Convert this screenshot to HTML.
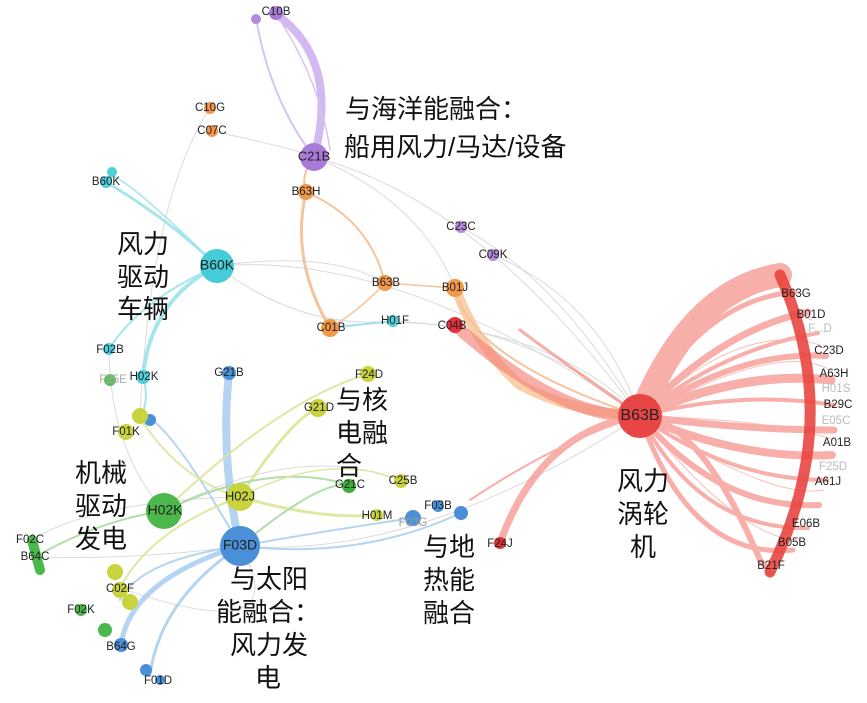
<!DOCTYPE html>
<html><head><meta charset="utf-8"><style>
html,body{margin:0;padding:0;background:#fff;width:867px;height:703px;overflow:hidden}
svg{display:block}
.l{font-family:"Liberation Sans",sans-serif;font-size:11.5px;fill:#222;text-anchor:middle;dominant-baseline:middle}
.cn{font-family:"Liberation Sans","Noto Sans CJK SC",sans-serif;font-size:26px;fill:#111}
</style></head><body>
<svg width="867" height="703" viewBox="0 0 867 703">
<g fill="none" stroke-linecap="round">
<g stroke="#ccc" stroke-width="1" opacity="0.7">
<path d="M314,157 Q420,200 455,288"/><path d="M314,157 Q480,200 640,416"/>
<path d="M217,266 Q330,250 385,283"/><path d="M217,266 Q300,330 393,321"/>
<path d="M217,266 Q400,250 640,416"/><path d="M330,328 Q500,300 640,416"/>
<path d="M212,131 Q300,150 314,157"/><path d="M210,108 Q150,200 140,418"/>
<path d="M493,255 Q600,300 640,416"/><path d="M461,227 Q560,280 640,416"/>
<path d="M240,546 Q420,560 640,416"/><path d="M164,511 Q300,440 401,481"/>
<path d="M120,588 Q300,650 240,546"/><path d="M30,540 Q100,500 240,497"/>
<path d="M35,557 Q140,560 240,546"/><path d="M109,349 Q110,450 164,511"/>
<path d="M393,321 Q560,330 640,416"/>
</g>
<g stroke="#8fdfe8" opacity="0.8">
<path d="M106,182 Q170,220 217,266" stroke-width="3"/>
<path d="M217,266 Q150,300 143,377" stroke-width="4"/>
<path d="M217,266 Q140,300 109,349" stroke-width="2"/>
<path d="M217,266 Q130,180 110,175" stroke-width="1.5"/>
<path d="M330,328 L393,321" stroke-width="2"/>
<path d="M143,377 Q150,400 140,418" stroke-width="2"/>
</g>
<path d="M276,14 Q340,60 314,157" stroke="#c8a8ec" stroke-width="8" opacity="0.8"/>
<path d="M256,18 Q270,100 314,157" stroke="#d7c3f0" stroke-width="2"/>
<path d="M276,14 Q320,80 330,150" stroke="#d7c3f0" stroke-width="1.5"/>
<g stroke="#f5b98a" opacity="0.85">
<path d="M306,192 Q290,260 330,328" stroke-width="3"/>
<path d="M306,192 Q370,220 385,283" stroke-width="2"/>
<path d="M314,157 Q300,175 306,192" stroke-width="2"/>
<path d="M385,283 L455,288" stroke-width="1.5"/>
<path d="M385,283 Q360,310 330,328" stroke-width="1.5"/>
<path d="M458,295 Q480,350 520,385 Q570,412 640,416" stroke="#f9c89a" stroke-width="10"/>
<path d="M455,288 Q470,360 640,416" stroke-width="2"/>
</g>
<g stroke="#f47e76" opacity="0.62">
<path d="M455,325 Q560,420 640,416" stroke-width="12"/>
<path d="M500,543 Q540,430 640,416" stroke-width="7"/>
<path d="M640,416 Q690,290 780,275" stroke-width="24"/>
<path d="M640,416 Q700,300 795,292" stroke-width="5"/>
<path d="M640,416 Q720,330 808,312" stroke-width="7"/>
<path d="M640,416 Q720,350 818,333" stroke-width="4"/>
<path d="M640,416 Q740,350 826,356" stroke-width="6"/>
<path d="M640,416 Q740,370 831,380" stroke-width="9"/>
<path d="M640,416 Q740,390 834,405" stroke-width="4"/>
<path d="M640,416 Q740,430 834,430" stroke-width="7"/>
<path d="M640,416 Q740,460 832,455" stroke-width="8"/>
<path d="M640,416 Q730,480 827,480" stroke-width="4"/>
<path d="M640,416 Q720,510 819,505" stroke-width="6"/>
<path d="M640,416 Q700,530 808,528" stroke-width="4"/>
<path d="M640,416 Q690,560 793,550" stroke-width="5"/>
<path d="M640,416 Q700,420 760,560 L770,572" stroke-width="6"/>
<path d="M640,416 Q560,360 520,330" stroke-width="3"/>
<path d="M640,416 Q560,440 470,500" stroke-width="2"/>
</g>
<g stroke="#f9b0aa" stroke-width="1" opacity="0.8">
<path d="M640,416 Q760,300 812,320"/><path d="M640,416 Q780,340 830,370"/>
<path d="M640,416 Q780,420 834,440"/><path d="M640,416 Q770,500 824,490"/>
<path d="M640,416 Q740,540 800,540"/><path d="M640,416 Q740,320 820,345"/>
</g>
<path d="M780,275 Q845,420 770,572" stroke="#e9453f" stroke-width="11" opacity="0.9"/>
<g stroke="#a9cdf0" opacity="0.85">
<path d="M229,373 Q220,460 240,546" stroke-width="8"/>
<path d="M240,546 Q130,580 121,645" stroke-width="5"/>
<path d="M240,546 Q160,600 150,675" stroke-width="3"/>
<path d="M240,546 Q140,560 120,600" stroke-width="2"/>
<path d="M240,546 Q330,530 413,518" stroke-width="2"/>
<path d="M240,546 Q360,560 461,513" stroke-width="2"/>
<path d="M240,546 Q180,440 150,418" stroke-width="2"/>
</g>
<g stroke="#dbe69a" opacity="0.9">
<path d="M240,497 Q290,420 318,408" stroke-width="3"/>
<path d="M240,497 Q320,520 377,515" stroke-width="3"/>
<path d="M240,497 Q180,480 140,418" stroke-width="2"/>
<path d="M240,497 Q150,530 120,588" stroke-width="2"/>
<path d="M164,511 Q280,400 368,374" stroke-width="2"/>
<path d="M164,511 Q270,460 349,485" stroke="#a8dba0" stroke-width="2"/>
<path d="M240,497 Q330,450 401,481" stroke-width="1.5"/>
<path d="M35,557 Q100,520 164,511" stroke="#a8dba0" stroke-width="2"/>
<path d="M240,546 Q320,480 349,485" stroke="#a8dba0" stroke-width="2"/>
</g>
</g>
<g>
<circle cx="256" cy="19" r="5" fill="#b48ae0"/><circle cx="276" cy="13" r="7" fill="#a97ad8"/>
<circle cx="314" cy="157" r="14" fill="#a97ad8"/>
<circle cx="210" cy="108" r="6" fill="#f0994a"/><circle cx="212" cy="131" r="6" fill="#f0994a"/>
<circle cx="306" cy="192" r="8" fill="#f0994a"/>
<circle cx="385" cy="283" r="8" fill="#f0994a"/><circle cx="455" cy="288" r="9" fill="#f0994a"/>
<circle cx="330" cy="328" r="9" fill="#f0994a"/>
<circle cx="461" cy="227" r="6" fill="#b48ae0"/><circle cx="493" cy="255" r="6" fill="#b48ae0"/>
<circle cx="455" cy="325" r="8" fill="#e2313a"/>
<circle cx="393" cy="321" r="6" fill="#4dcfdc"/>
<circle cx="106" cy="182" r="6" fill="#4dcfdc"/><circle cx="112" cy="172" r="5" fill="#4dcfdc"/>
<circle cx="217" cy="266" r="17" fill="#45ccd8"/>
<circle cx="109" cy="349" r="6" fill="#4dcfdc"/><circle cx="143" cy="377" r="7" fill="#4dcfdc"/>
<circle cx="110" cy="380" r="6" fill="#5cbf5c"/>
<circle cx="229" cy="373" r="7" fill="#4a90d8"/>
<circle cx="368" cy="374" r="8" fill="#c8d33e"/><circle cx="318" cy="408" r="9" fill="#c8d33e"/>
<circle cx="150" cy="420" r="6" fill="#4a90d8"/><circle cx="140" cy="416" r="8" fill="#c8d33e"/><circle cx="126" cy="432" r="8" fill="#c8d33e"/>
<circle cx="164" cy="511" r="18" fill="#4cb84c"/>
<circle cx="240" cy="497" r="14" fill="#c8d33e"/>
<circle cx="240" cy="546" r="20" fill="#4a90d8"/>
<circle cx="349" cy="486" r="7" fill="#3fae3f"/><circle cx="401" cy="481" r="7" fill="#c8d33e"/>
<circle cx="377" cy="515" r="6" fill="#c8d33e"/><circle cx="413" cy="518" r="8" fill="#4a90d8"/>
<circle cx="438" cy="506" r="6" fill="#4a90d8"/><circle cx="461" cy="513" r="7" fill="#4a90d8"/>
<circle cx="500" cy="543" r="6" fill="#e2313a"/>
<path d="M32,540 L40,570" stroke="#4cb84c" stroke-width="10" stroke-linecap="round"/>
<circle cx="115" cy="572" r="8" fill="#c8d33e"/><circle cx="120" cy="590" r="8" fill="#c8d33e"/><circle cx="130" cy="602" r="8" fill="#c8d33e"/>
<circle cx="81" cy="610" r="6" fill="#4cb84c"/><circle cx="105" cy="630" r="7" fill="#4cb84c"/>
<circle cx="121" cy="645" r="7" fill="#4a90d8"/>
<circle cx="146" cy="670" r="6" fill="#4a90d8"/><circle cx="160" cy="680" r="5" fill="#4a90d8"/>
<circle cx="640" cy="416" r="22" fill="#e84545"/>
</g>
<g class="l">
<text x="276" y="12">C10B</text><text x="210" y="108">C10G</text><text x="212" y="131">C07C</text>
<text x="314" y="157" font-size="13">C21B</text><text x="306" y="192">B63H</text>
<text x="106" y="182">B60K</text><text x="217" y="266" font-size="14">B60K</text>
<text x="461" y="227">C23C</text><text x="493" y="255">C09K</text>
<text x="386" y="283">B63B</text><text x="455" y="288">B01J</text>
<text x="331" y="328">C01B</text><text x="395" y="321">H01F</text><text x="452" y="326">C04B</text>
<text x="110" y="350">F02B</text><text x="113" y="380" fill="#aaa">F25E</text><text x="144" y="377">H02K</text>
<text x="229" y="373">G21B</text><text x="369" y="375">F24D</text><text x="319" y="408">G21D</text>
<text x="126" y="432">F01K</text>
<text x="165" y="511" font-size="14">H02K</text><text x="240" y="497" font-size="13">H02J</text>
<text x="240" y="546" font-size="14">F03D</text>
<text x="350" y="485">G21C</text><text x="403" y="481">C25B</text>
<text x="377" y="516">H01M</text><text x="413" y="523" fill="#999">F03G</text><text x="438" y="506">F03B</text>
<text x="500" y="544">F24J</text>
<text x="30" y="540">F02C</text><text x="35" y="557">B64C</text>
<text x="120" y="589">C02F</text><text x="81" y="610">F02K</text><text x="121" y="647">B64G</text>
<text x="158" y="681">F01D</text>
<text x="640" y="416" font-size="16">B63B</text>
<text x="796" y="294">B63G</text><text x="811" y="315">B01D</text><text x="820" y="329" fill="#bbb">F...D</text>
<text x="829" y="351">C23D</text><text x="834" y="374">A63H</text><text x="836" y="389" fill="#bbb">H01S</text>
<text x="838" y="405">B29C</text><text x="836" y="421" fill="#bbb">E05C</text>
<text x="837" y="443">A01B</text><text x="833" y="467" fill="#bbb">F25D</text><text x="828" y="482">A61J</text>
<text x="806" y="524">E06B</text><text x="792" y="543">B05B</text><text x="771" y="566">B21F</text>
</g>
<g class="cn">
<text x="345" y="118">与海洋能融合：</text><text x="344" y="156">船用风力/马达/设备</text>
<text x="117" y="253">风力</text><text x="117" y="286">驱动</text><text x="117" y="318">车辆</text>
<text x="336" y="409">与核</text><text x="336" y="442">电融</text><text x="336" y="475">合</text>
<text x="75" y="482">机械</text><text x="75" y="515">驱动</text><text x="75" y="548">发电</text>
<text x="230" y="588">与太阳</text><text x="216" y="621">能融合：</text><text x="230" y="654">风力发</text><text x="255" y="687">电</text>
<text x="423" y="556">与地</text><text x="423" y="589">热能</text><text x="423" y="622">融合</text>
<text x="617" y="490">风力</text><text x="617" y="523">涡轮</text><text x="630" y="556">机</text>
</g>
</svg>
</body></html>
